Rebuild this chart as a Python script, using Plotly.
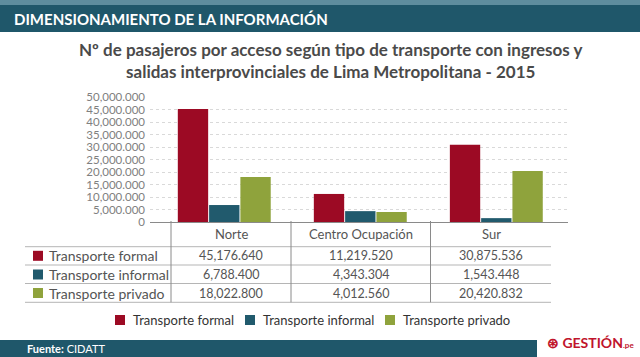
import plotly.graph_objects as go

categories = ["Norte", "Centro Ocupación", "Sur"]
series_names = ["Transporte formal", "Transporte informal", "Transporte privado"]
formal = [45176640, 11219520, 30875536]
informal = [6788400, 4343304, 1543448]
privado = [18022800, 4012560, 20420832]
formal_txt = ["45,176.640", "11,219.520", "30,875.536"]
informal_txt = ["6,788.400", "4,343.304", "1,543.448"]
privado_txt = ["18,022.800", "4,012.560", "20,420.832"]
y_tickvals = [0, 5e6, 10e6, 15e6, 20e6, 25e6, 30e6, 35e6, 40e6, 45e6, 50e6]
y_ticktext = ["0", "5,000.000", "10,000.000", "15,000.000", "20,000.000", "25,000.000",
              "30,000.000", "35,000.000", "40,000.000", "45,000.000", "50,000.000"]
colors = ["#9c0a24", "#215a6d", "#8fa33c"]

W, H = 640, 357
L, R, T, B = 150, 72, 97, 135
PW, PH = W - L - R, H - T - B


def px(x):
    return (x - L) / PW


def py(y):
    return (H - B - y) / PH


FONT = "Lato"
fig = go.Figure()
for name, vals, col in zip(series_names, [formal, informal, privado], colors):
    fig.add_trace(go.Bar(x=categories, y=vals, name=name, marker=dict(color=col, line=dict(width=0)),
                         showlegend=False))

shapes = []
annots = []
# header bands
shapes.append(dict(type="rect", xref="paper", yref="paper", x0=px(0), x1=px(W), y0=py(0), y1=py(5),
                   fillcolor="#5e8d9e", line=dict(width=0), layer="below"))
shapes.append(dict(type="rect", xref="paper", yref="paper", x0=px(0), x1=px(W), y0=py(5), y1=py(32),
                   fillcolor="#1f576a", line=dict(width=0), layer="below"))
annots.append(dict(text="<b>DIMENSIONAMIENTO DE LA INFORMACIÓN</b>", xref="paper", yref="paper",
                   x=px(12), y=py(18.5), xanchor="left", yanchor="middle", showarrow=False,
                   font=dict(family=FONT, size=15, color="white", weight=900)))
# title
annots.append(dict(text="<b>Nº de pasajeros por acceso según tipo de transporte con ingresos y<br>salidas interprovinciales de Lima Metropolitana - 2015</b>",
                   xref="paper", yref="paper", x=px(330), y=py(61), xanchor="center", yanchor="middle",
                   showarrow=False, align="center",
                   font=dict(family=FONT, size=17, color="#4a4a4a")))
# table lines
for yy in [246.7, 265, 283.5, 302.3]:
    shapes.append(dict(type="line", xref="paper", yref="paper", x0=px(25), x1=px(551), y0=py(yy), y1=py(yy),
                       line=dict(color="#b5b5b5", width=1)))
for xx in [171, 291, 430.5]:
    shapes.append(dict(type="line", xref="paper", yref="paper", x0=px(xx), x1=px(xx), y0=py(221), y1=py(302.3),
                       line=dict(color="#8a8a8a", width=1)))
col_centers = [231, 361, 491]
for c, cx in zip(categories, col_centers):
    annots.append(dict(text=c, xref="paper", yref="paper", x=px(cx), y=py(234), xanchor="center",
                       yanchor="middle", showarrow=False, font=dict(family=FONT, size=13, color="#555555")))
row_y = [255.8, 274.5, 293]
for name, txts, col, ry in zip(series_names, [formal_txt, informal_txt, privado_txt], colors, row_y):
    shapes.append(dict(type="rect", xref="paper", yref="paper", x0=px(33), x1=px(43), y0=py(ry - 5), y1=py(ry + 5),
                       fillcolor=col, line=dict(width=0)))
    annots.append(dict(text=name, xref="paper", yref="paper", x=px(47), y=py(ry), xanchor="left",
                       yanchor="middle", showarrow=False, font=dict(family=FONT, size=14, color="#555555")))
    for t, cx in zip(txts, col_centers):
        annots.append(dict(text=t, xref="paper", yref="paper", x=px(cx), y=py(ry), xanchor="center",
                           yanchor="middle", showarrow=False, font=dict(family=FONT, size=12.5, color="#555555")))
# legend
leg_x = [115, 245, 385]
for name, col, lx in zip(series_names, colors, leg_x):
    shapes.append(dict(type="rect", xref="paper", yref="paper", x0=px(lx), x1=px(lx + 10), y0=py(315), y1=py(325),
                       fillcolor=col, line=dict(width=0)))
    annots.append(dict(text=name, xref="paper", yref="paper", x=px(lx + 16), y=py(320), xanchor="left",
                       yanchor="middle", showarrow=False, font=dict(family=FONT, size=13, color="#333333")))
# footer
shapes.append(dict(type="rect", xref="paper", yref="paper", x0=px(0), x1=px(537), y0=py(340), y1=py(357),
                   fillcolor="#1f576a", line=dict(width=0)))
annots.append(dict(text="<b>Fuente:</b> CIDATT", xref="paper", yref="paper", x=px(25), y=py(348.5),
                   xanchor="left", yanchor="middle", showarrow=False,
                   font=dict(family=FONT, size=11, color="white")))
annots.append(dict(text="<b>⊛ GESTIÓN</b><span style='font-size:8px'><b>.pe</b></span>", xref="paper", yref="paper",
                   x=px(590), y=py(342), xanchor="center", yanchor="middle", showarrow=False,
                   font=dict(family=FONT, size=14, color="#c0142c")))

fig.update_layout(
    width=W, height=H, margin=dict(l=L, r=R, t=T, b=B, autoexpand=False),
    paper_bgcolor="white", plot_bgcolor="white",
    barmode="group", bargap=0.31, bargroupgap=0.03,
    showlegend=False,
    shapes=shapes, annotations=annots,
    xaxis=dict(type="category", range=[-0.546, 2.527], showticklabels=False, showgrid=False,
               showline=True, linecolor="#8a8a8a", linewidth=1, ticks="", zeroline=False, fixedrange=True),
    yaxis=dict(range=[0, 50e6], tickvals=y_tickvals, ticktext=y_ticktext, showgrid=True,
               gridcolor="#d9d9d9", griddash="dot", gridwidth=1, zeroline=False, showline=False,
               ticks="", ticklabelstandoff=4,
               tickfont=dict(family=FONT, size=11.5, color="#808080")),
)
fig.write_html("out.html", config={"displayModeBar": False},
               post_script="document.body.style.margin='0';document.body.style.overflow='hidden';")
